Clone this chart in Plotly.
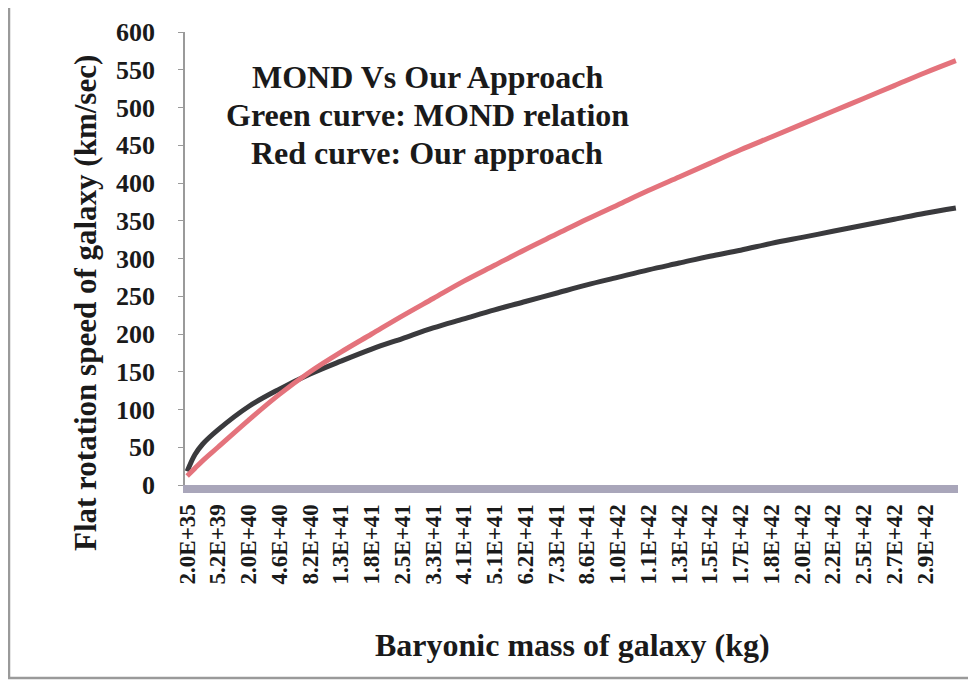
import plotly.graph_objects as go

# Category position index (one step per labelled mass)
mass_index = [0, 0.25, 0.5, 1, 2, 3, 4, 5, 6, 7, 8, 9, 10, 11, 12, 13, 14,
              15, 16, 17, 18, 19, 20, 21, 22, 23, 24, 25]

# Green curve (drawn dark): MOND relation, km/s
v_mond = [18, 40, 54, 73, 104, 127, 147, 164, 180, 194, 208, 220, 232, 243,
          254, 265, 275, 285, 294, 303, 311, 320, 328, 336, 344, 352, 360, 367]

# Red curve: our approach, km/s
v_ours = [12, 22, 32, 50, 86, 120, 150, 176, 200, 224, 247, 270, 291, 312,
          332, 352, 371, 390, 408, 426, 444, 461, 478, 495, 512, 529, 546, 562]

tick_pos = list(range(25))
tick_labels = ["2.0E+35", "5.2E+39", "2.0E+40", "4.6E+40", "8.2E+40", "1.3E+41",
               "1.8E+41", "2.5E+41", "3.3E+41", "4.1E+41", "5.1E+41", "6.2E+41",
               "7.3E+41", "8.6E+41", "1.0E+42", "1.1E+42", "1.3E+42", "1.5E+42",
               "1.7E+42", "1.8E+42", "2.0E+42", "2.2E+42", "2.5E+42", "2.7E+42",
               "2.9E+42"]
y_ticks = [0, 50, 100, 150, 200, 250, 300, 350, 400, 450, 500, 550, 600]
note_lines = ["MOND Vs Our Approach", "Green curve: MOND relation",
              "Red curve: Our approach"]
x_title = "Baryonic mass of galaxy (kg)"
y_title = "Flat rotation speed of galaxy (km/sec)"

FONT = "Liberation Serif"
# page body adds an 8px offset; plot area targets left=185, top=32, right=958, bottom=485
OFF = 8
PL, PT, PW, PH = 185, 32, 773, 453


def px(xp):
    return (xp - PL) / PW


def py(yp):
    return (PT + PH - yp) / PH


fig = go.Figure()
fig.add_trace(go.Scatter(x=mass_index, y=v_mond, mode="lines",
                         line=dict(color="#3a3a3d", width=5, shape="spline"),
                         showlegend=False))
fig.add_trace(go.Scatter(x=mass_index, y=v_ours, mode="lines",
                         line=dict(color="#e4737c", width=5, shape="spline"),
                         showlegend=False))

annotations = []
for i, line in enumerate(note_lines):
    annotations.append(dict(
        x=px(427), y=py(77 + 38 * i), xref="paper", yref="paper",
        text="<b>" + line + "</b>", showarrow=False, xanchor="center",
        yanchor="middle", font=dict(family=FONT, size=32, color="#1a1a1a")))
annotations.append(dict(
    x=px(85), y=py(303), xref="paper", yref="paper", textangle=-90,
    text="<b>" + y_title + "</b>", showarrow=False, xanchor="center",
    yanchor="middle", font=dict(family=FONT, size=31, color="#1a1a1a")))
annotations.append(dict(
    x=px(572), y=py(645), xref="paper", yref="paper",
    text="<b>" + x_title + "</b>", showarrow=False, xanchor="center",
    yanchor="middle", font=dict(family=FONT, size=32, color="#1a1a1a")))

fig.update_layout(
    width=976 - OFF, height=683 - OFF,
    margin=dict(l=PL - OFF, r=976 - OFF - (PL - OFF) - PW, t=PT - OFF,
                b=683 - OFF - (PT - OFF) - PH),
    paper_bgcolor="white", plot_bgcolor="white",
    font=dict(family=FONT, color="#1a1a1a"),
    xaxis=dict(
        range=[-0.07, 25.07], tickmode="array", tickvals=tick_pos,
        ticktext=tick_labels, tickangle=-90, showgrid=False, zeroline=False,
        showline=True, linecolor="#a9a6ba", linewidth=8, ticks="",
        ticklabelstandoff=2,
        tickfont=dict(family=FONT, size=23, color="#1a1a1a", weight="bold"),
        automargin=False,
    ),
    yaxis=dict(
        range=[0, 600], tickmode="array", tickvals=y_ticks, showgrid=False,
        zeroline=False, showline=True, linecolor="#9a9a9a", linewidth=1.5,
        ticks="outside", ticklen=5, tickcolor="#9a9a9a",
        ticklabelstandoff=18,
        tickfont=dict(family=FONT, size=26, color="#1a1a1a", weight="bold"),
        automargin=False,
    ),
    annotations=annotations,
    shapes=[dict(type="rect", xref="paper", yref="paper",
                 x0=px(9), x1=px(973), y0=py(678), y1=py(5),
                 line=dict(color="#9a9a9a", width=2.5))],
)

fig.write_html("out.html")
